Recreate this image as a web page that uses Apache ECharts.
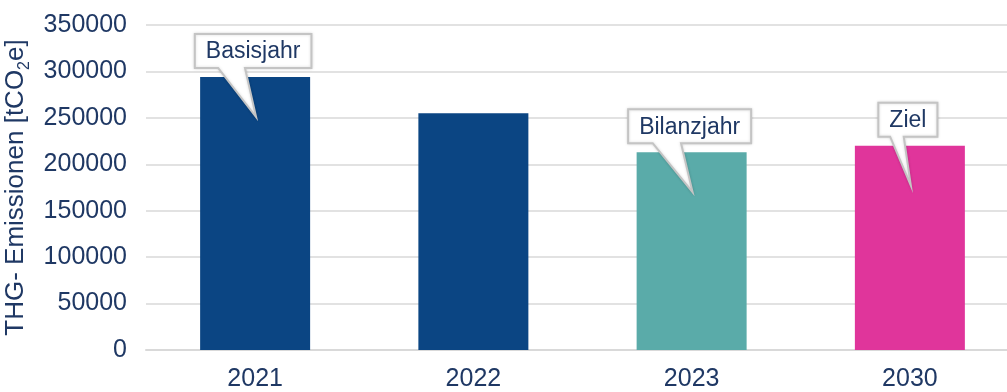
<!DOCTYPE html>
<html>
<head>
<meta charset="utf-8">
<script src="https://cdn.jsdelivr.net/npm/echarts@6/dist/echarts.min.js"></script>
<style>
  html, body { margin: 0; padding: 0; background: #fff; }
  #chart { width: 1007px; height: 392px; }
</style>
</head>
<body>
<div id="chart"></div>
<script>
const categories = ['2021', '2022', '2023', '2030'];
const emissions = [294000, 255000, 213000, 220000];
const barColors = ['#0b4583', '#0b4583', '#5aaba9', '#e0359b'];
const callouts = ['Basisjahr', '', 'Bilanzjahr', 'Ziel'];

const textColor = '#1f3864';
const fontFamily = 'Liberation Sans, Arial, sans-serif';
const tickFont = 25;
const calloutFont = 23;

// Textbreite für die Sprechblasen messen
const ctx = document.createElement('canvas').getContext('2d');
ctx.font = calloutFont + 'px ' + fontFamily;
const textWidth = t => ctx.measureText(t).width;

const calloutData = [];
callouts.forEach((t, i) => {
    if (t) calloutData.push([i, emissions[i]]);
});

const chart = echarts.init(document.getElementById('chart'));

const option = {
    animation: false,
    grid: { left: 146, right: -12, top: 25, bottom: 42, containLabel: false, outerBoundsMode: 'none' },
    xAxis: {
        type: 'category',
        data: categories,
        axisLine: { lineStyle: { color: '#d9d9d9', width: 2 } },
        axisTick: { show: false },
        axisLabel: { color: textColor, fontSize: tickFont, fontFamily: fontFamily, margin: 17 }
    },
    yAxis: {
        type: 'value',
        min: 0,
        max: 350000,
        interval: 50000,
        name: '{a|THG- Emissionen [tCO}{b|2}{a|e]}',
        nameLocation: 'middle',
        nameGap: 104,
        nameTextStyle: {
            color: textColor,
            fontSize: 26,
            fontFamily: fontFamily,
            rich: {
                a: { color: textColor, fontSize: 26, fontFamily: fontFamily },
                b: { color: textColor, fontSize: 16, fontFamily: fontFamily, verticalAlign: 'bottom', padding: [0, 0, -4, 0] }
            }
        },
        axisLine: { show: false },
        axisTick: { show: false },
        splitLine: { lineStyle: { color: '#d9d9d9', width: 1.5 } },
        axisLabel: {
            color: textColor, fontSize: tickFont, fontFamily: fontFamily, margin: 19,
            formatter: v => String(v)
        }
    },
    series: [
        {
            type: 'bar',
            barWidth: '50.4%',
            data: emissions.map((v, i) => ({ value: v, itemStyle: { color: barColors[i] } }))
        },
        {
            type: 'custom',
            clip: false,
            z: 10,
            data: calloutData,
            renderItem: function (params, api) {
                const i = api.value(0);
                const p = api.coord([i, api.value(1)]);
                const text = callouts[i];
                const w = textWidth(text) + 22;
                const h = 34;
                const cx = p[0] - 2;
                const x0 = cx - w / 2, x1 = cx + w / 2;
                const y1 = p[1] - 9, y0 = y1 - h;
                const b1 = x0 + w * 0.2, b2 = x0 + w * 0.43;
                const tip = [p[0] + 1, p[1] + 40];
                return {
                    type: 'group',
                    children: [
                        {
                            type: 'polygon',
                            shape: { points: [[x0, y0], [x1, y0], [x1, y1], [b2, y1], tip, [b1, y1], [x0, y1]] },
                            style: { fill: '#ffffff', stroke: '#c4c4c4', lineWidth: 2, shadowBlur: 3, shadowColor: 'rgba(0,0,0,0.15)' }
                        },
                        {
                            type: 'text',
                            style: {
                                text: text,
                                x: cx,
                                y: (y0 + y1) / 2 + 1,
                                align: 'center',
                                verticalAlign: 'middle',
                                fontSize: calloutFont,
                                fontFamily: fontFamily,
                                fill: textColor
                            }
                        }
                    ]
                };
            }
        }
    ]
};

chart.setOption(option);
</script>
</body>
</html>
